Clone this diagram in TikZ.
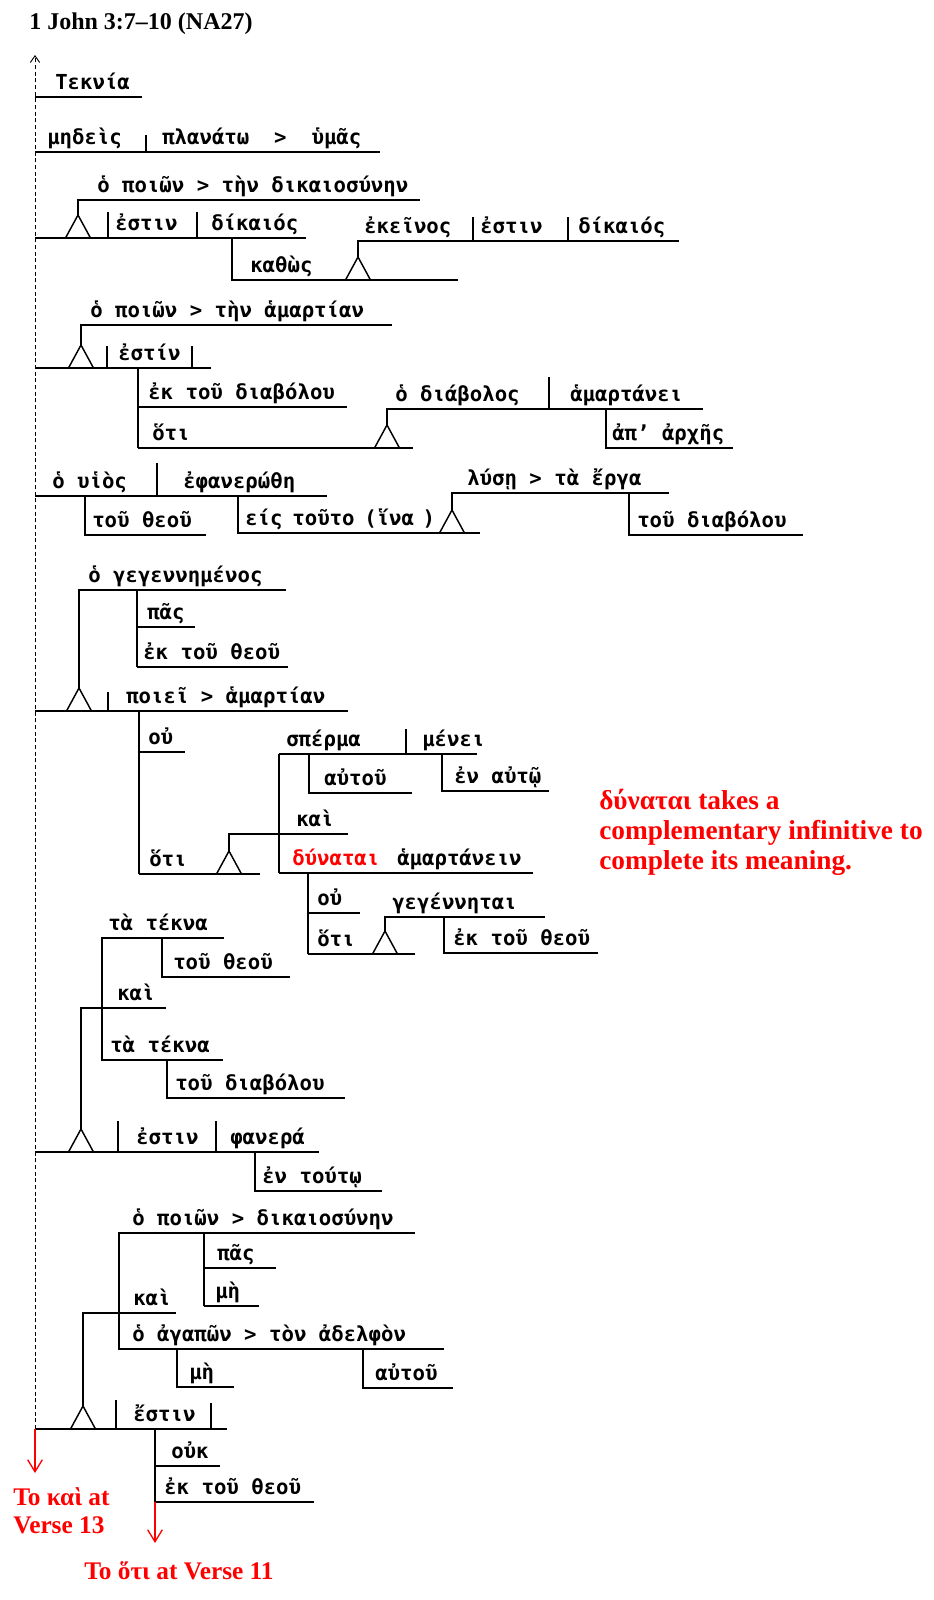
\documentclass[tikz,border=0pt]{standalone}
\usepackage{fontspec}
\usepackage{tikz}
\usetikzlibrary{arrows.meta}
\newfontfamily\gkfont[UprightFont=* Bold]{DejaVu Sans Mono}
\newfontfamily\notefont{Liberation Serif}
\definecolor{notered}{HTML}{FF0000}
% triangle that stands a clause on its slot: centre x, base y
\newcommand{\pedestal}[2]{\draw[rule] (#1-12.5,#2) -- (#1,#2-23) -- (#1+12.5,#2);}
\tikzset{
  gk/.style={font=\gkfont\fontsize{15.5}{19}\selectfont,inner sep=0pt,anchor=base west},
  rule/.style={line width=1.1pt},
  note/.style={font=\notefont\bfseries\fontsize{19}{22}\selectfont,text=notered,inner sep=0pt,anchor=base west},
  redarrow/.style={draw=notered,line width=1pt,-{Straight Barb[length=9pt,width=11pt]}},
  spine/.style={line width=0.7pt,dash pattern=on 3pt off 2pt,-{Straight Barb[length=5pt,width=7pt]}},
}
\begin{document}
\begin{tikzpicture}[x=0.75pt,y=-0.75pt]
  \useasboundingbox (0,0) rectangle (934,1600);
  \node[note,text=black,font=\notefont\bfseries\fontsize{18}{20}\selectfont] (title) at (29,29) {1 John 3:7–10 (NA27)};
  \draw[spine] (35,1429) -- (35,55);
  % v.7a
  \node[gk] (teknia) at (55,89) {Τεκνία};
  \draw[rule] (35,97) -- (142,97);
  \node[gk] (medeis) at (47,144) {μηδεὶς};
  \node[gk] (planato) at (162,144) {πλανάτω\ \ >\ \ ὑμᾶς};
  \draw[rule] (35,152) -- (380,152) (146,135) -- (146,152);
  % v.7b
  \node[gk] (poion1) at (97,192) {ὁ ποιῶν > τὴν δικαιοσύνην};
  \draw[rule] (420,200) -- (78,200) -- (78,215);
  \pedestal{78}{238}
  \draw[rule] (35,238) -- (306,238) (108,212) -- (108,238) (197,212) -- (197,238);
  \node[gk] (estin1) at (115,230) {ἐστιν};
  \node[gk] (dikaios1) at (211,230) {δίκαιός};
  \draw[rule] (232,238) -- (232,280) -- (458,280);
  \node[gk] (kathos) at (250,272) {καθὼς};
  \pedestal{358}{280}
  \draw[rule] (358,257) -- (358,241) -- (679,241) (473,217) -- (473,241) (568,217) -- (568,241);
  \node[gk] (ekeinos) at (364,233) {ἐκεῖνος};
  \node[gk] (estin2) at (480,233) {ἐστιν};
  \node[gk] (dikaios2) at (578,233) {δίκαιός};
  % v.8a
  \node[gk] (poion2) at (90,317) {ὁ ποιῶν > τὴν ἁμαρτίαν};
  \draw[rule] (392,325) -- (81,325) -- (81,345);
  \pedestal{81}{368}
  \draw[rule] (35,368) -- (211,368) (107,346) -- (107,368) (192,346) -- (192,368);
  \node[gk] (estin3) at (118,360) {ἐστίν};
  \draw[rule] (138,368) -- (138,448) (138,407) -- (347,407) (138,448) -- (413,448);
  \node[gk] (ekdiab) at (148,399) {ἐκ τοῦ διαβόλου};
  \node[gk] (hoti1) at (152,440) {ὅτι};
  \pedestal{387}{448}
  \draw[rule] (387,425) -- (387,409) -- (703,409) (549,377) -- (549,409);
  \node[gk] (diabolos) at (395,401) {ὁ διάβολος};
  \node[gk] (hamartanei) at (570,401) {ἁμαρτάνει};
  \draw[rule] (606,409) -- (606,448) -- (733,448);
  \node[gk] (aparches) at (612,440) {ἀπ’ ἀρχῆς};
  % v.8b
  \draw[rule] (35,496) -- (327,496) (157,463) -- (157,496);
  \node[gk] (huios) at (52,488) {ὁ υἱὸς};
  \node[gk] (ephanerothe) at (183,488) {ἐφανερώθη};
  \draw[rule] (85,496) -- (85,535) -- (206,535);
  \node[gk] (tou1) at (92,527) {τοῦ θεοῦ};
  \draw[rule] (238,496) -- (238,533) -- (480,533);
  \node[gk] (eistouto) at (245,525) {είς\hspace{-2pt} τοῦτο\hspace{-2pt} (ἵνα\hspace{-3pt} )};
  \pedestal{452}{533}
  \draw[rule] (452,511) -- (452,493) -- (669,493);
  \node[gk] (luse) at (467,485) {λύσῃ > τὰ ἔργα};
  \draw[rule] (629,493) -- (629,535) -- (803,535);
  \node[gk] (tou2) at (637,527) {τοῦ διαβόλου};
  % v.9
  \node[gk] (gegen) at (88,582) {ὁ γεγεννημένος};
  \draw[rule] (286,590) -- (79,590) -- (79,688);
  \draw[rule] (137,590) -- (137,667) (137,627) -- (195,627) (137,667) -- (288,667);
  \node[gk] (pas1) at (147,619) {πᾶς};
  \node[gk] (ektheou1) at (143,659) {ἐκ τοῦ θεοῦ};
  \pedestal{79}{711}
  \draw[rule] (35,711) -- (348,711) (108,692) -- (108,711);
  \node[gk] (poiei) at (126,703) {ποιεῖ > ἁμαρτίαν};
  \draw[rule] (139,711) -- (139,874) (139,752) -- (185,752) (139,874) -- (260,874);
  \node[gk] (ou1) at (148,744) {οὐ};
  \node[gk] (hoti2) at (149,866) {ὅτι};
  \pedestal{229}{874}
  \draw[rule] (229,851) -- (229,834) -- (348,834);
  \node[gk] (kai1) at (296,826) {καὶ};
  \draw[rule] (279,754) -- (477,754) (406,729) -- (406,754) (279,754) -- (279,873);
  \node[gk] (sperma) at (286,746) {σπέρμα};
  \node[gk] (menei) at (422,746) {μένει};
  \draw[rule] (309,754) -- (309,793) -- (412,793);
  \node[gk] (autou1) at (324,785) {αὐτοῦ};
  \draw[rule] (442,754) -- (442,791) -- (549,791);
  \node[gk] (enauto) at (454,783) {ἐν αὐτῷ};
  \draw[rule] (279,873) -- (533,873);
  \node[gk,text=notered] (dunatai) at (292,865) {δύναται};
  \node[gk] (hamartanein) at (397,865) {ἁμαρτάνειν};
  \draw[rule] (308,873) -- (308,954) (308,913) -- (360,913) (308,954) -- (415,954);
  \node[gk] (ou2) at (317,905) {οὐ};
  \node[gk] (hoti3) at (317,946) {ὅτι};
  \pedestal{385}{954}
  \draw[rule] (385,931) -- (385,917) -- (545,917);
  \node[gk] (gegennetai) at (392,909) {γεγέννηται};
  \draw[rule] (444,917) -- (444,953) -- (598,953);
  \node[gk] (ektheou2) at (453,945) {ἐκ τοῦ θεοῦ};
  \foreach \t [count=\i] in {δύναται takes a,complementary infinitive to,complete its meaning.}
    \node[note,font=\notefont\bfseries\fontsize{20.5}{24}\selectfont] (remark\i) at (599,779+30*\i) {\t};
  % v.10a
  \node[gk] (tekna1) at (108,930) {τὰ τέκνα};
  \draw[rule] (224,938) -- (102,938) -- (102,1060) -- (223,1060);
  \draw[rule] (162,938) -- (162,977) -- (290,977);
  \node[gk] (tou3) at (173,969) {τοῦ θεοῦ};
  \node[gk] (kai2) at (117,1000) {καὶ};
  \draw[rule] (166,1008) -- (81,1008) -- (81,1130);
  \node[gk] (tekna2) at (110,1052) {τὰ τέκνα};
  \draw[rule] (167,1060) -- (167,1098) -- (345,1098);
  \node[gk] (tou4) at (175,1090) {τοῦ διαβόλου};
  \pedestal{81}{1152}
  \draw[rule] (35,1152) -- (319,1152) (118,1121) -- (118,1152) (216,1121) -- (216,1152);
  \node[gk] (estin4) at (136,1144) {ἐστιν};
  \node[gk] (phanera) at (230,1144) {φανερά};
  \draw[rule] (255,1152) -- (255,1191) -- (382,1191);
  \node[gk] (entouto) at (262,1183) {ἐν τούτῳ};
  % v.10b
  \node[gk] (poion3) at (132,1225) {ὁ ποιῶν > δικαιοσύνην};
  \draw[rule] (415,1233) -- (119,1233) -- (119,1349) -- (444,1349);
  \draw[rule] (204,1233) -- (204,1306) (204,1268) -- (276,1268) (204,1306) -- (259,1306);
  \node[gk] (pas2) at (217,1260) {πᾶς};
  \node[gk] (me1) at (215,1298) {μὴ};
  \node[gk] (kai3) at (133,1305) {καὶ};
  \draw[rule] (176,1313) -- (83,1313) -- (83,1406);
  \node[gk] (agapon) at (132,1341) {ὁ ἀγαπῶν > τὸν ἀδελφὸν};
  \draw[rule] (177,1349) -- (177,1387) -- (234,1387);
  \node[gk] (me2) at (189,1379) {μὴ};
  \draw[rule] (363,1349) -- (363,1388) -- (453,1388);
  \node[gk] (autou2) at (375,1380) {αὐτοῦ};
  \pedestal{83}{1429}
  \draw[rule] (35,1429) -- (227,1429) (116,1400) -- (116,1429) (211,1403) -- (211,1429);
  \node[gk] (estin5) at (133,1421) {ἔστιν};
  \draw[rule] (155,1429) -- (155,1502) (155,1466) -- (220,1466) (155,1502) -- (314,1502);
  \node[gk] (ouk) at (171,1458) {οὐκ};
  \node[gk] (ektheou3) at (164,1494) {ἐκ τοῦ θεοῦ};
  % onward links
  \coordinate (v13) at (35,1473);
  \coordinate (v11) at (155,1543);
  \draw[redarrow] (35,1429) -- (v13);
  \draw[redarrow] (155,1502) -- (v11);
  \node[note] (tokai) at (13,1505) {To καὶ at};
  \node[note] (verse13) at (13,1533) {Verse 13};
  \node[note] (tohoti) at (84,1579) {To ὅτι at Verse 11};
\end{tikzpicture}
\end{document}
